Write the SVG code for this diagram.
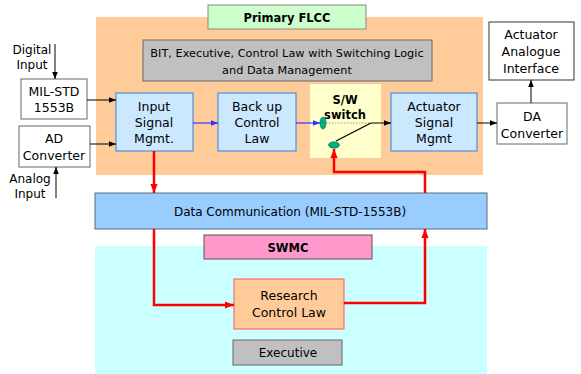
<svg xmlns="http://www.w3.org/2000/svg" width="581" height="374" viewBox="0 0 581 374">
<style>
text{font-family:"DejaVu Sans","Liberation Sans",sans-serif;font-size:12.5px;fill:#000;text-anchor:middle}
.b{font-weight:bold;font-size:11.5px}
.s{font-size:11.3px}
.m{font-size:12px}
.blue{fill:#cce8ff;stroke:#4a8fe0;stroke-width:1.2}
.wb{fill:#fff;stroke:#666;stroke-width:1}
.k{stroke:#000;stroke-width:1;fill:none}
.r{stroke:#ff0000;stroke-width:2.5;fill:none}
.bl{stroke:#3333ff;stroke-width:1.2;fill:none}
</style>
<defs>
<marker id="ak" viewBox="0 0 10 10" refX="10" refY="5" markerWidth="7" markerHeight="7" orient="auto" markerUnits="userSpaceOnUse"><path d="M0,1 L10,5 L0,9 z" fill="#000"/></marker>
<marker id="ab" viewBox="0 0 10 10" refX="10" refY="5" markerWidth="7" markerHeight="7" orient="auto" markerUnits="userSpaceOnUse"><path d="M0,1 L10,5 L0,9 z" fill="#3333ff"/></marker>
<marker id="ar" viewBox="0 0 10 10" refX="10" refY="5" markerWidth="9" markerHeight="9" orient="auto" markerUnits="userSpaceOnUse"><path d="M0,1 L10,5 L0,9 z" fill="#ff0000"/></marker>
</defs>
<rect width="581" height="374" fill="#fff"/>
<g id="flcc-bg"><rect x="96" y="17" width="387" height="158" fill="#ffcc99"/></g>
<g id="swmc-bg"><rect x="95" y="246" width="392" height="128" fill="#ccffff"/></g>
<g id="primary-flcc"><rect x="208" y="5" width="158" height="24" fill="#ccffcc" stroke="#888"/><text class="b" x="287" y="22">Primary FLCC</text></g>
<g id="bit"><rect x="143" y="40" width="289" height="41" fill="#c0c0c0" stroke="#666"/><text class="s" x="287" y="57">BIT, Executive, Control Law with Switching Logic</text><text class="s" x="287" y="74">and Data Management</text></g>
<g id="input-signal"><rect class="blue" x="116" y="93" width="77" height="58"/><text x="154" y="111">Input</text><text x="154" y="127">Signal</text><text x="154" y="143">Mgmt.</text></g>
<g id="backup"><rect class="blue" x="218" y="93" width="78" height="58"/><text x="257" y="111">Back up</text><text x="257" y="127">Control</text><text x="257" y="143">Law</text></g>
<g id="switch"><rect x="310" y="84" width="71" height="74" fill="#ffffcc"/><text class="b" x="345" y="104">S/W</text><text class="b" x="345" y="119">switch</text>
<line x1="326" y1="123" x2="371" y2="123" stroke="#999" stroke-width="1" stroke-dasharray="1.5,1.5"/>
<line x1="336" y1="141" x2="371" y2="123" stroke="#000" stroke-width="1.3"/>
<ellipse cx="323" cy="123" rx="3" ry="6" fill="#00b080" stroke="#006040" stroke-width="0.6"/>
<ellipse cx="334" cy="145" rx="5.5" ry="3.2" fill="#00b080" stroke="#006040" stroke-width="0.6"/></g>
<g id="actuator-signal"><rect class="blue" x="391" y="93" width="86" height="58"/><text x="434" y="111">Actuator</text><text x="434" y="127">Signal</text><text x="434" y="143">Mgmt</text></g>
<g id="mil-std"><rect class="wb" x="21" y="79" width="66" height="40"/><text x="54" y="96">MIL-STD</text><text x="54" y="112">1553B</text></g>
<g id="ad"><rect class="wb" x="19" y="126" width="71" height="41"/><text x="54" y="143">AD</text><text x="54" y="160">Converter</text></g>
<g id="digital-input"><text class="m" x="32" y="54">Digital</text><text class="m" x="32" y="69">Input</text></g>
<g id="analog-input"><text class="m" x="30" y="183">Analog</text><text class="m" x="30" y="198">Input</text></g>
<g id="actuator-analogue"><rect x="489" y="22" width="85" height="58" fill="#fff" stroke="#333"/><text x="531" y="39">Actuator</text><text x="531" y="56">Analogue</text><text x="531" y="73">Interface</text></g>
<g id="da"><rect class="wb" x="497" y="103" width="70" height="41"/><text x="532" y="121">DA</text><text x="532" y="138">Converter</text></g>
<g id="data-comm"><rect x="95" y="193" width="392" height="36" fill="#99ccff" stroke="#5a6a7a"/><text class="m" x="290" y="216">Data Communication (MIL-STD-1553B)</text></g>
<g id="swmc"><rect x="204" y="235" width="168" height="24" fill="#ff99cc" stroke="#555"/><text class="b" x="288" y="252">SWMC</text></g>
<g id="research"><rect x="234" y="279" width="110" height="50" fill="#ffcc99" stroke="#ff5555"/><text x="289" y="300">Research</text><text x="289" y="317">Control Law</text></g>
<g id="executive"><rect x="233" y="340" width="109" height="25" fill="#c0c0c0" stroke="#666"/><text class="m" x="288" y="357">Executive</text></g>
<g id="connectors">
<line class="k" x1="55" y1="44" x2="55" y2="79" marker-end="url(#ak)"/>
<line class="k" x1="56" y1="198" x2="56" y2="167" marker-end="url(#ak)"/>
<line class="k" x1="87" y1="100" x2="116" y2="100" marker-end="url(#ak)"/>
<line class="k" x1="90" y1="144" x2="116" y2="144" marker-end="url(#ak)"/>
<line class="bl" x1="193" y1="123" x2="218" y2="123" marker-end="url(#ab)"/>
<line class="bl" x1="296" y1="123" x2="320" y2="123" marker-end="url(#ab)"/>
<line class="k" x1="371" y1="123" x2="391" y2="123" marker-end="url(#ak)"/>
<line class="k" x1="477" y1="123" x2="497" y2="123" marker-end="url(#ak)"/>
<line class="k" x1="531" y1="103" x2="531" y2="80" marker-end="url(#ak)"/>
<line class="r" x1="154" y1="151" x2="154" y2="193" marker-end="url(#ar)"/>
<polyline class="r" points="154,229 154,305 234,305" marker-end="url(#ar)"/>
<polyline class="r" points="344,303 425,303 425,229" marker-end="url(#ar)"/>
<polyline class="r" points="425,193 425,172 334,172 334,149" marker-end="url(#ar)"/>
</g>
</svg>
